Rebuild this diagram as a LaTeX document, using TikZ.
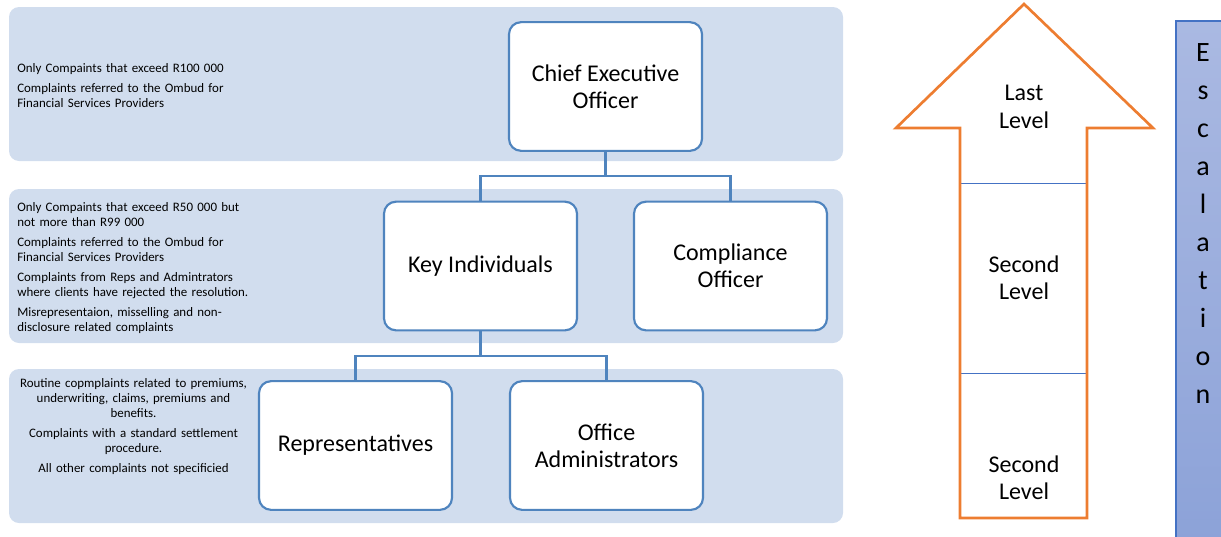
\documentclass[tikz,border=0pt]{standalone}
\usepackage{fontspec}
\setmainfont{Carlito}
\definecolor{bandfill}{HTML}{D1DDEE}
\definecolor{roleline}{HTML}{4F84BE}
\definecolor{arroworange}{HTML}{ED7D31}
\definecolor{stepline}{HTML}{4472C4}
\definecolor{esctop}{HTML}{AAB9E2}
\definecolor{escbottom}{HTML}{8CA2D8}
\begin{document}
\begin{tikzpicture}[x=0.75pt,y=-0.75pt,
  band/.style={fill=bandfill, rounded corners=7.5pt},
  role/.style={draw=roleline, line width=1.6pt, fill=white, rounded corners=9pt,
    minimum width=144.75pt, minimum height=96.5pt, align=center, inner sep=2pt,
    font=\fontsize{18}{20.25}\selectfont},
  link/.style={draw=roleline, line width=1.6pt},
  note/.style={inner sep=0pt, text width=185pt, align=left,
    font=\fontsize{9.7}{11.25}\selectfont},
  levelnote/.style={align=center, inner sep=0pt, font=\fontsize{18}{20.5}\selectfont},
  tier/.style={draw=stepline, line width=0.75pt}]
\clip (0,0) rectangle (1221,536);

% three tier bands
\path[band] (9,7) rectangle (843,161);
\path[band] (9,189) rectangle (843,343);
\path[band] (9,369) rectangle (843,523);

% notes for each tier
\node[note, anchor=base west] (n1) at (17,72.5)
  {Only Compaints that exceed R100 000\\[3.75pt]
   Complaints referred to the Ombud for\\
   Financial Services Providers};
\node[note, anchor=base west] (n2) at (17,211.5)
  {Only Compaints that exceed R50 000 but\\
   not more than R99 000\\[3.75pt]
   Complaints referred to the Ombud for\\
   Financial Services Providers\\[3.75pt]
   Complaints from Reps and Admintrators\\
   where clients have rejected the resolution.\\[3.75pt]
   Misrepresentaion, misselling and non-\\
   disclosure related complaints};
\node[note, align=center, anchor=base] (n3) at (133.5,387.5)
  {Routine copmplaints related to premiums,\\
   underwriting, claims, premiums and\\
   benefits.\\[3.75pt]
   Complaints with a standard settlement\\
   procedure.\\[3.75pt]
   All other complaints not specificied};

% roles
\node[role] (ceo) at (605.5,86.5) {Chief Executive\\Officer};
\node[role] (ki) at (480.5,266) {Key Individuals};
\node[role] (co) at (730.5,266) {Compliance\\Officer};
\node[role] (rep) at (355.5,445.5) {Representatives};
\node[role] (adm) at (606.5,445.5) {Office\\Administrators};

% reporting lines
\coordinate (j1) at (605.5,176);
\coordinate (j2) at (480.5,356);
\draw[link] (ceo.south) -- (j1) -| (ki.north);
\draw[link] (j1) -| (co.north);
\draw[link] (ki.south) -- (j2) -| (rep.north);
\draw[link] (j2) -| (adm.north);

% escalation arrow
\draw[tier] (960,183) -- (1087,183);
\draw[tier] (960,373) -- (1087,373);
\draw[arroworange, line width=2pt, line join=miter]
  (960,518) -- (960,128) -- (896,128) -- (1024,4) -- (1153,128)
  -- (1087,128) -- (1087,518) -- cycle;
\node[levelnote] (last) at (1024,107) {Last\\Level};
\node[levelnote] (mid) at (1024,277.5) {Second\\Level};
\node[levelnote] (low) at (1024,478) {Second\\Level};

% escalation label
\shade[top color=esctop, bottom color=escbottom] (1176,21) rectangle (1230,545);
\draw[stepline, line width=1pt] (1176,545) -- (1176,21) -- (1230,21);
\node[inner sep=0pt, text width=30pt, align=center, anchor=base,
  font=\fontsize{21}{28.5}\selectfont] (esc) at (1203,61)
  {E\\s\\c\\a\\l\\a\\t\\i\\o\\n};
\end{tikzpicture}
\end{document}
